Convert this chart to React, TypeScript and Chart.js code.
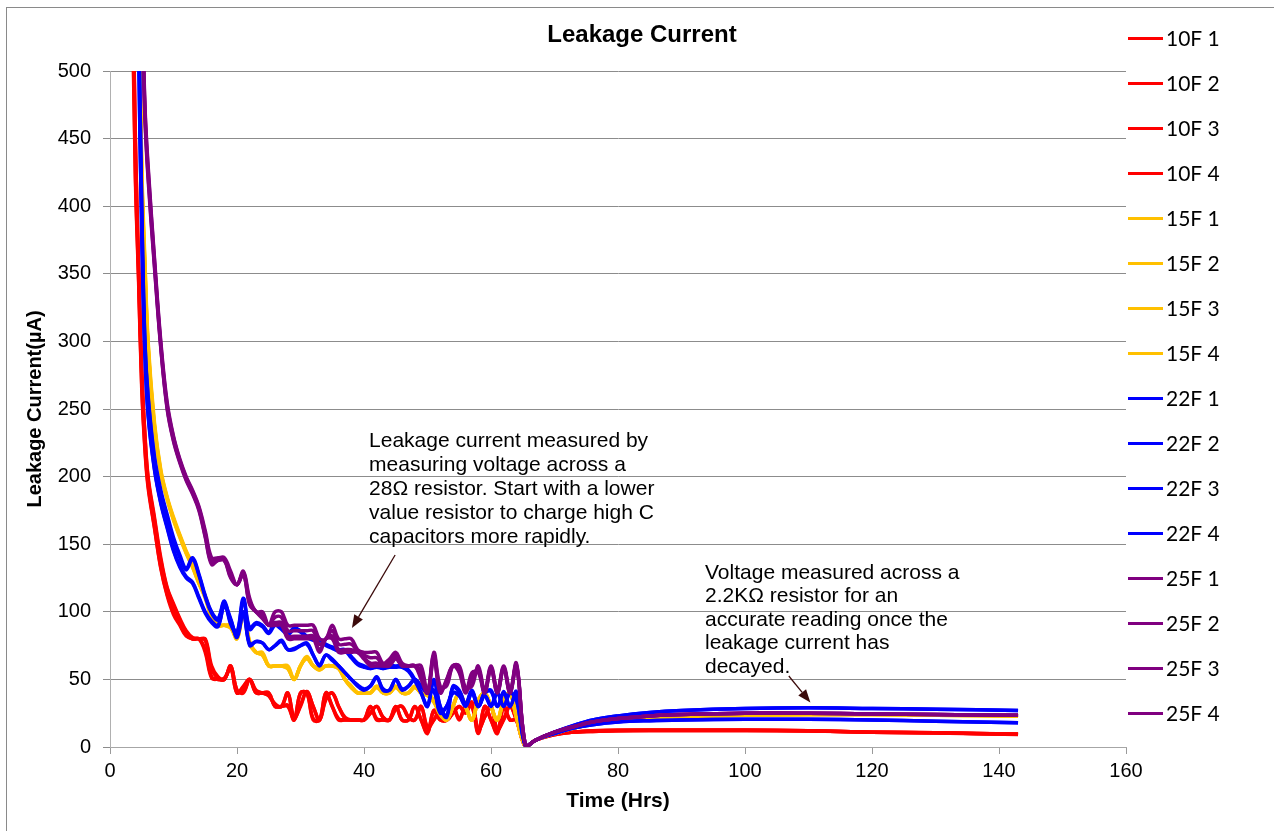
import React, { useEffect, useRef } from "react";
import { Chart, registerables } from "chart.js";
Chart.register(...registerables);

// Time axis (hours)
const hours = [
  3.5, 4, 4.5, 5, 5.5,
  6, 7, 8, 9, 10, 11, 12, 13, 14, 15,
  16, 17, 18, 19, 20, 21, 22, 23, 24, 25,
  26, 27, 28, 29, 30, 31, 32, 33, 34, 35,
  36, 37, 38, 39, 40, 41, 42, 43, 44, 45,
  46, 47, 48, 49, 50, 51, 52, 53, 54, 55,
  56, 57, 58, 59, 60, 61, 62, 63, 64,
  65.5, 67, 70, 73, 76, 80, 85, 90, 100, 110, 120, 130, 143,
];

const seriesNames = [
  "10F 1", "10F 2", "10F 3", "10F 4",
  "15F 1", "15F 2", "15F 3", "15F 4",
  "22F 1", "22F 2", "22F 3", "22F 4",
  "25F 1", "25F 2", "25F 3", "25F 4",
];

const red1 = [
  560, 420, 345, 265, 220,
  192, 162, 132, 112, 98, 90, 82, 80, 80, 70,
  51, 50, 50, 59, 40, 45, 50, 42, 40, 38,
  32, 30, 40, 22, 30, 41, 30, 20, 35, 40,
  30, 22, 20, 20, 20, 25, 30, 22, 20, 28,
  30, 22, 20, 30, 15, 20, 27, 20, 25, 30,
  25, 33, 13, 22, 30, 13, 20, 30, 20,
  0, 5, 9.5, 11, 11.5, 12, 12.3, 12.3, 12.3, 12, 11, 10.5, 9.5,
];
const red2 = [
  600, 450, 360, 280, 232,
  200, 170, 140, 118, 106, 95, 86, 81, 80, 80,
  60, 52, 50, 60, 42, 40, 50, 40, 40, 40,
  30, 30, 30, 20, 40, 40, 20, 20, 40, 30,
  20, 20, 20, 20, 20, 30, 20, 20, 20, 30,
  20, 20, 30, 20, 10, 27, 20, 20, 30, 20,
  30, 30, 10, 30, 20, 10, 30, 20, 20,
  0, 5, 9, 11, 12, 12.5, 12.5, 12.5, 12.5, 12, 11, 10.5, 9.5,
];
const red3 = [
  570, 425, 348, 268, 222,
  194, 163, 133, 113, 100, 91, 83, 80, 80, 72,
  52, 50, 51, 58, 40, 44, 50, 41, 40, 38,
  31, 30, 40, 21, 31, 41, 30, 20, 36, 40,
  30, 21, 20, 20, 20, 25, 30, 22, 20, 28,
  30, 22, 20, 30, 14, 20, 27, 20, 25, 30,
  26, 33, 13, 22, 30, 13, 21, 30, 20,
  0, 5, 9.5, 11, 11.5, 12, 12, 12, 12, 11.8, 11, 10.3, 9.3,
];
const red4 = [
  590, 445, 355, 276, 230,
  198, 168, 138, 117, 105, 94, 85, 80, 80, 79,
  58, 51, 50, 60, 42, 41, 50, 40, 40, 40,
  30, 30, 31, 20, 40, 40, 21, 20, 40, 30,
  21, 20, 20, 20, 20, 30, 21, 20, 20, 30,
  20, 20, 30, 20, 11, 27, 20, 20, 30, 21,
  30, 30, 11, 30, 20, 11, 30, 20, 20,
  0, 5, 9, 11, 11.8, 12.2, 12.4, 12.4, 12.3, 12, 11, 10.5, 9.6,
];

const yellow1 = [
  1100, 800, 580, 430, 360,
  300, 240, 205, 185, 170, 157, 145, 135, 122, 112,
  98, 90, 90, 90, 82, 100, 78, 70, 70, 60,
  60, 60, 60, 50, 60, 67, 60, 58, 60, 60,
  60, 50, 45, 40, 40, 40, 45, 40, 40, 45,
  40, 40, 45, 40, 40, 35, 25, 20, 30, 40,
  30, 20, 35, 40, 30, 20, 35, 40, 22,
  0, 5, 10, 14, 17, 19.5, 21.5, 22.5, 23.5, 24, 24, 23.5, 23,
];
const yellow2 = [
  1050, 780, 570, 420, 352,
  295, 236, 202, 183, 168, 155, 143, 133, 121, 110,
  96, 90, 90, 88, 80, 98, 76, 70, 68, 60,
  60, 60, 58, 50, 60, 65, 60, 57, 60, 60,
  58, 50, 44, 40, 40, 40, 44, 40, 40, 44,
  40, 40, 44, 40, 38, 33, 24, 20, 30, 40,
  30, 20, 34, 40, 30, 20, 34, 40, 22,
  0, 5, 10, 14, 17, 19.5, 21.5, 22.5, 23.5, 24, 24, 23.5, 23,
];
const yellow3 = [
  1080, 790, 575, 425, 356,
  298, 238, 204, 184, 169, 156, 144, 134, 122, 111,
  97, 90, 90, 89, 81, 99, 77, 70, 69, 60,
  60, 60, 59, 50, 60, 66, 60, 58, 60, 60,
  59, 50, 45, 40, 40, 40, 45, 40, 40, 45,
  40, 40, 45, 40, 39, 34, 25, 20, 30, 40,
  30, 20, 35, 40, 30, 20, 35, 40, 22,
  0, 5, 10, 14, 17, 19.5, 21.5, 22.5, 23.5, 24, 24, 23.5, 23,
];
const yellow4 = [
  1060, 785, 572, 422, 354,
  296, 237, 203, 184, 168, 156, 144, 133, 121, 111,
  96, 90, 90, 89, 80, 99, 77, 70, 68, 60,
  60, 60, 58, 50, 60, 66, 60, 57, 60, 60,
  58, 50, 44, 40, 40, 40, 44, 40, 40, 44,
  40, 40, 44, 40, 38, 34, 24, 20, 30, 40,
  30, 20, 34, 40, 30, 20, 34, 40, 22,
  0, 5, 10, 14, 17, 19.5, 21.5, 22.5, 23.5, 24, 24, 23.5, 23,
];

const blue1 = [
  1100, 800, 560, 400, 300,
  260, 215, 190, 172, 155, 142, 132, 140, 128, 112,
  100, 95, 108, 92, 85, 110, 88, 92, 90, 85,
  92, 88, 84, 88, 86, 82, 80, 80, 76, 74,
  72, 72, 67, 62, 60, 58, 60, 58, 60, 60,
  60, 57, 50, 40, 30, 50, 30, 22, 45, 42,
  32, 42, 30, 40, 42, 30, 41, 30, 41,
  0, 5, 11, 16, 20, 23, 25.5, 27, 28.5, 29, 28.5, 28, 27,
];
const blue2 = [
  1080, 790, 555, 398, 298,
  258, 213, 188, 170, 153, 140, 131, 139, 127, 111,
  99, 94, 107, 91, 84, 108, 87, 91, 89, 84,
  90, 87, 83, 87, 85, 81, 79, 79, 75, 73,
  71, 71, 66, 61, 59, 58, 59, 58, 59, 59,
  59, 56, 49, 40, 31, 49, 30, 23, 44, 41,
  32, 41, 30, 40, 41, 30, 40, 30, 40,
  0, 5, 11, 16, 20, 23, 25.5, 27, 28.5, 29, 28.5, 28, 27,
];
const blue3 = [
  1000, 720, 520, 380, 290,
  245, 205, 180, 162, 145, 133, 125, 121, 110, 99,
  92, 89, 105, 95, 81, 100, 75, 78, 77, 72,
  75, 79, 72, 72, 75, 77, 68, 60, 68, 65,
  60, 55, 50, 45, 42, 45, 52, 42, 42, 50,
  42, 45, 50, 45, 40, 42, 25, 30, 40, 38,
  30, 40, 30, 38, 30, 40, 30, 40, 35,
  0, 5, 10, 14, 16.5, 18.5, 19.5, 20, 20.5, 20.5, 20, 19, 18,
];
const blue4 = [
  1010, 725, 522, 382, 292,
  247, 206, 181, 163, 146, 134, 126, 122, 111, 100,
  93, 90, 104, 94, 82, 99, 76, 78, 77, 72,
  75, 78, 72, 73, 75, 76, 68, 61, 68, 64,
  60, 55, 50, 46, 43, 45, 51, 43, 42, 50,
  43, 45, 50, 45, 40, 41, 26, 30, 40, 38,
  31, 40, 30, 38, 31, 40, 30, 40, 35,
  0, 5, 10, 14, 16.5, 18.5, 19.5, 20, 20.5, 20.5, 20, 19, 18,
];

const purple1 = [
  1300, 950, 720, 570, 475,
  430, 362, 300, 255, 230, 213, 200, 190, 178, 160,
  140, 140, 140, 130, 120, 130, 110, 100, 100, 90,
  100, 100, 90, 90, 90, 90, 90, 80, 80, 90,
  80, 80, 80, 72, 70, 70, 70, 62, 65, 70,
  62, 60, 60, 60, 40, 70, 45, 45, 60, 60,
  44, 45, 60, 42, 60, 42, 60, 42, 62,
  0, 5, 11, 15, 18.5, 21, 23, 24, 25, 25, 24.5, 24, 23.5,
];
const purple2 = [
  1280, 940, 712, 565, 472,
  427, 360, 298, 253, 229, 212, 199, 189, 177, 158,
  138, 139, 139, 128, 120, 129, 108, 100, 98, 90,
  96, 96, 86, 86, 86, 86, 86, 76, 80, 86,
  76, 76, 76, 71, 68, 66, 66, 61, 63, 68,
  61, 60, 60, 56, 40, 68, 43, 47, 60, 58,
  42, 50, 58, 41, 59, 41, 59, 41, 61,
  0, 5, 11, 15, 18.5, 21, 23, 24, 25, 25, 24.5, 24, 23.5,
];
const purple3 = [
  1250, 920, 700, 555, 465,
  420, 355, 295, 250, 226, 210, 197, 187, 175, 155,
  135, 138, 138, 125, 120, 128, 105, 100, 95, 90,
  90, 90, 80, 80, 80, 80, 80, 70, 80, 80,
  70, 70, 70, 70, 65, 60, 60, 60, 60, 65,
  60, 60, 60, 50, 40, 65, 40, 50, 60, 55,
  40, 55, 55, 40, 58, 40, 58, 40, 60,
  0, 5, 11, 15, 18.5, 21, 23, 24, 25, 25, 24.5, 24, 23.5,
];
const purple4 = [
  1260, 925, 705, 558, 468,
  423, 357, 296, 251, 227, 211, 198, 188, 176, 156,
  136, 138, 138, 126, 120, 128, 106, 100, 96, 90,
  92, 92, 82, 82, 82, 82, 82, 72, 80, 82,
  72, 72, 72, 70, 66, 62, 62, 60, 61, 66,
  60, 60, 60, 52, 40, 66, 41, 49, 60, 56,
  41, 52, 56, 40, 58, 40, 58, 40, 60,
  0, 5, 11, 15, 18.5, 21, 23, 24, 25, 25, 24.5, 24, 23.5,
];

const seriesValues = [
  red1, red2, red3, red4,
  yellow1, yellow2, yellow3, yellow4,
  blue1, blue2, blue3, blue4,
  purple1, purple2, purple3, purple4,
];
const seriesColors = [
  "#FF0000", "#FF0000", "#FF0000", "#FF0000",
  "#FFC000", "#FFC000", "#FFC000", "#FFC000",
  "#0000FF", "#0000FF", "#0000FF", "#0000FF",
  "#800080", "#800080", "#800080", "#800080",
];

const xTickStep = 20;
const yTickStep = 50;

const note1Lines = [
  "Leakage current measured by",
  "measuring voltage across a",
  "28Ω resistor. Start with a lower",
  "value resistor to charge high C",
  "capacitors more rapidly.",
];
const note2Lines = [
  "Voltage measured across a",
  "2.2KΩ resistor for an",
  "accurate reading once the",
  "leakage current has",
  "decayed.",
];

const SANS = '"Liberation Sans", Arial, sans-serif';

function drawArrow(ctx: CanvasRenderingContext2D, x1: number, y1: number, x2: number, y2: number) {
  const ang = Math.atan2(y2 - y1, x2 - x1);
  const headLen = 13;
  const headW = 5;
  const bx = x2 - headLen * Math.cos(ang);
  const by = y2 - headLen * Math.sin(ang);
  ctx.save();
  ctx.strokeStyle = "#3B0A0A";
  ctx.fillStyle = "#3B0A0A";
  ctx.lineWidth = 1.3;
  ctx.beginPath();
  ctx.moveTo(x1, y1);
  ctx.lineTo(bx, by);
  ctx.stroke();
  ctx.beginPath();
  ctx.moveTo(x2, y2);
  ctx.lineTo(bx + headW * Math.sin(ang), by - headW * Math.cos(ang));
  ctx.lineTo(bx - headW * Math.sin(ang), by + headW * Math.cos(ang));
  ctx.closePath();
  ctx.fill();
  ctx.restore();
}

export default function App() {
  const ref = useRef<HTMLCanvasElement>(null);

  useEffect(() => {
    document.body.style.margin = "0";
    const canvas = ref.current!;

    const datasets = seriesNames.map((name, i) => ({
      label: name,
      data: hours.map((h, k) => ({ x: h, y: seriesValues[i][k] })),
      borderColor: seriesColors[i],
      backgroundColor: seriesColors[i],
      borderWidth: 3.5,
      pointRadius: 0,
      pointHoverRadius: 0,
      tension: 0.38,
      fill: false,
      order: 16 - i,
    }));

    const decor = {
      id: "decor",
      beforeDraw(chart: any) {
        const ctx = chart.ctx as CanvasRenderingContext2D;
        ctx.save();
        ctx.fillStyle = "#ffffff";
        ctx.fillRect(0, 0, chart.width, chart.height);
        ctx.strokeStyle = "#8a8a8a";
        ctx.lineWidth = 1;
        ctx.strokeRect(6.5, 7.5, chart.width + 20, chart.height + 20);
        ctx.restore();
      },
      afterDraw(chart: any) {
        const ctx = chart.ctx as CanvasRenderingContext2D;
        const xs = chart.scales.x;
        const ys = chart.scales.y;
        ctx.save();
        // Title
        ctx.fillStyle = "#000";
        ctx.font = `bold 24px ${SANS}`;
        ctx.textAlign = "center";
        ctx.textBaseline = "middle";
        ctx.fillText("Leakage Current", chart.width / 2 + 5, 35);

        // Legend
        ctx.textAlign = "left";
        ctx.font = `21px Lato, "Open Sans", sans-serif`;
        chart.data.datasets.forEach((ds: any, i: number) => {
          const y = 38.5 + i * 45;
          ctx.strokeStyle = ds.borderColor;
          ctx.lineWidth = 3;
          ctx.beginPath();
          ctx.moveTo(1128, y);
          ctx.lineTo(1163, y);
          ctx.stroke();
          ctx.fillStyle = "#000";
          ctx.fillText(ds.label, 1166, y + 1);
        });

        // Annotations
        ctx.font = `21px ${SANS}`;
        ctx.fillStyle = "#000";
        const n1x = xs.getPixelForValue(40.8);
        const n1y = ys.getPixelForValue(226);
        note1Lines.forEach((l, i) => ctx.fillText(l, n1x, n1y + i * 24));
        const n2x = xs.getPixelForValue(93.7);
        const n2y = ys.getPixelForValue(128.7);
        note2Lines.forEach((l, i) => ctx.fillText(l, n2x, n2y + i * 23.5));
        ctx.restore();

        drawArrow(ctx, xs.getPixelForValue(44.9), ys.getPixelForValue(142), xs.getPixelForValue(38.1), ys.getPixelForValue(88));
        drawArrow(ctx, xs.getPixelForValue(106.9), ys.getPixelForValue(52.5), xs.getPixelForValue(110.3), ys.getPixelForValue(33));
      },
    };

    const chart = new Chart(canvas, {
      type: "line",
      data: { datasets },
      plugins: [decor],
      options: {
        animation: false,
        responsive: false,
        events: [],
        layout: { padding: { top: 71, right: 148, left: 0, bottom: 0 } },
        plugins: { legend: { display: false }, title: { display: false }, tooltip: { enabled: false } },
        scales: {
          x: {
            type: "linear",
            min: 0,
            max: 160,
            afterFit(scale: any) { scale.height = 84; },
            ticks: { stepSize: xTickStep, color: "#000", font: { family: SANS, size: 20 }, padding: 5, maxRotation: 0 },
            grid: { drawOnChartArea: false, drawTicks: true, tickLength: 7, color: "#9a9a9a" },
            border: { display: true, color: "#a6a6a6", width: 1 },
            title: { display: true, text: "Time (Hrs)", color: "#000", font: { family: SANS, size: 21, weight: "bold" }, padding: { top: 0, bottom: 17 } },
          },
          y: {
            type: "linear",
            min: 0,
            max: 500,
            afterFit(scale: any) { scale.width = 110; },
            ticks: { stepSize: yTickStep, color: "#000", font: { family: SANS, size: 20 }, padding: 12 },
            grid: { drawOnChartArea: true, drawTicks: true, tickLength: 7, color: "#8c8c8c", lineWidth: 1 },
            border: { display: true, color: "#b0b0b0", width: 1 },
            title: { display: true, text: "Leakage Current(µA)", color: "#000", font: { family: SANS, size: 20, weight: "bold" }, padding: { top: 23, bottom: 0 } },
          },
        },
      } as any,
    });
    return () => chart.destroy();
  }, []);

  return <canvas ref={ref} width={1274} height={831} style={{ display: "block", width: 1274, height: 831 }} />;
}
